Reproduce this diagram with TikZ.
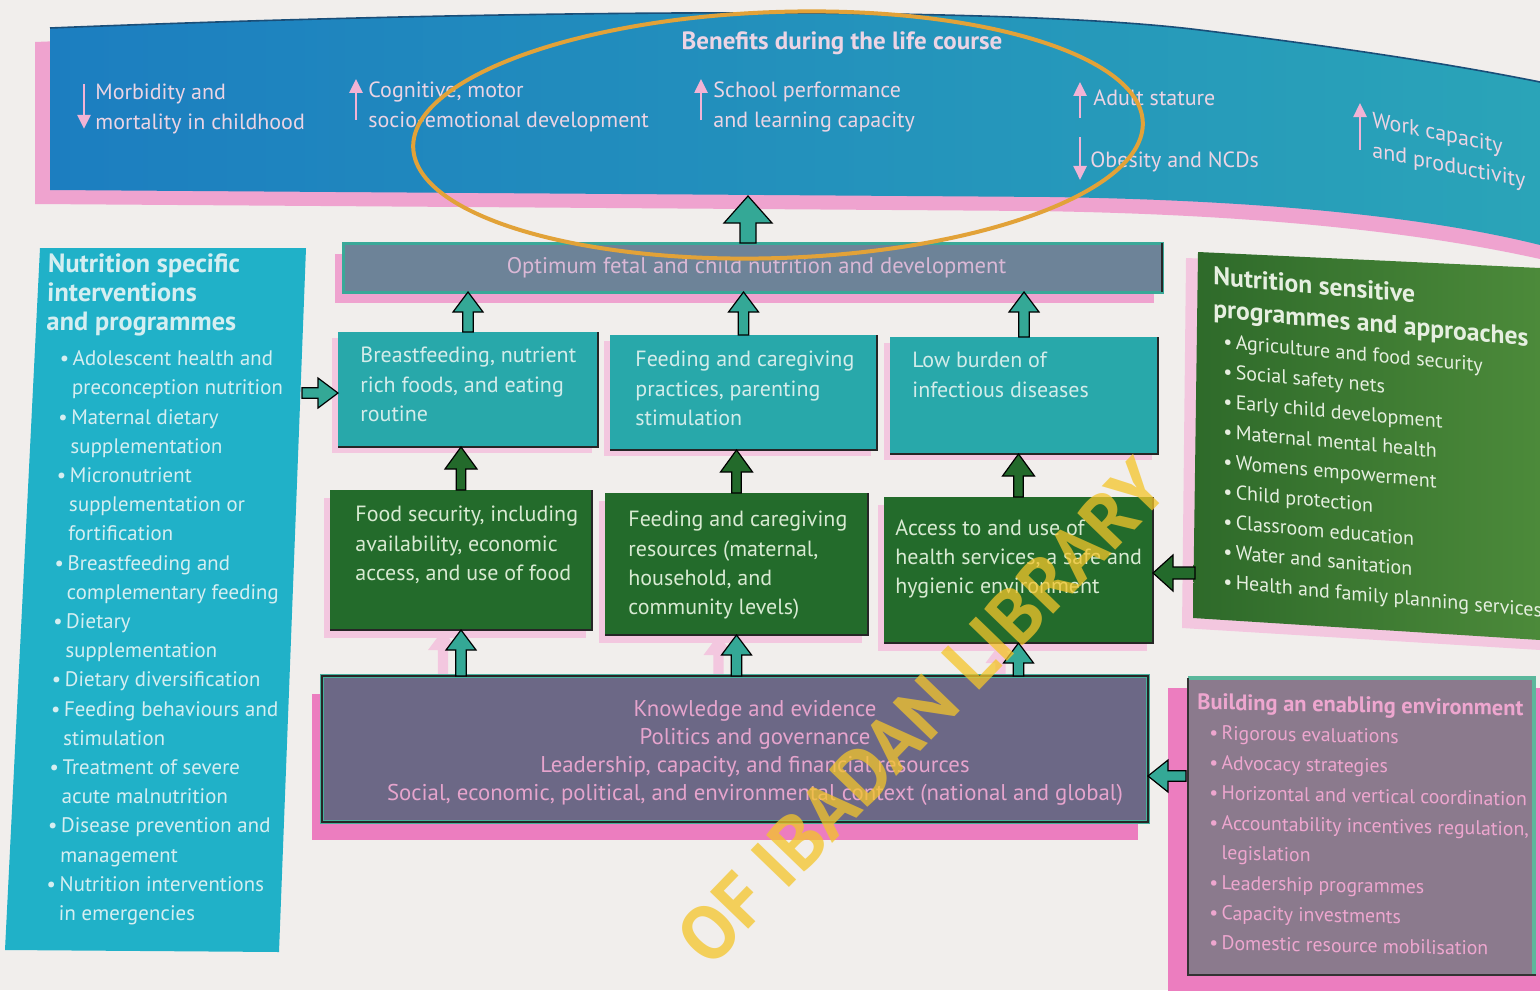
\documentclass[tikz,border=0pt]{standalone}
\usepackage{fontspec}
\setmainfont{PT Sans}
\usetikzlibrary{calc,arrows.meta}
\pgfdeclarelayer{paper}
\pgfdeclarelayer{shadow}
\pgfsetlayers{paper,shadow,main}
\definecolor{paperc}{HTML}{F1EEEC}
\definecolor{banL}{HTML}{1C7EC0}
\definecolor{banR}{HTML}{2AA4B8}
\definecolor{banedge}{HTML}{1A4E78}
\definecolor{bantext}{HTML}{ECD4E4}
\definecolor{banarrow}{HTML}{F2B3D5}
\definecolor{optfill}{HTML}{6D8398}
\definecolor{optborder}{HTML}{3AA898}
\definecolor{opttext}{HTML}{DAB8D6}
\definecolor{tealbox}{HTML}{28A8AA}
\definecolor{tealtext}{HTML}{D3ECEA}
\definecolor{tealarr}{HTML}{34A896}
\definecolor{greenbox}{HTML}{236B2B}
\definecolor{greentext}{HTML}{D8EAD2}
\definecolor{greenarr}{HTML}{236A2B}
\definecolor{gfill}{HTML}{6C6886}
\definecolor{gborder}{HTML}{46B09C}
\definecolor{gtext}{HTML}{E6A4CD}
\definecolor{hfill}{HTML}{20B1C8}
\definecolor{htext}{HTML}{D5EEF1}
\definecolor{iL}{HTML}{2E6A2A}
\definecolor{iR}{HTML}{4C8A3A}
\definecolor{itext}{HTML}{E6EFE0}
\definecolor{jfill}{HTML}{8B7A8D}
\definecolor{jborder}{HTML}{5BB79C}
\definecolor{jtext}{HTML}{EEA6CF}
\definecolor{pinkS}{HTML}{EC7DBF}
\definecolor{pinkM}{HTML}{EFA3CF}
\definecolor{pinkL}{HTML}{F3C7DF}
\definecolor{ring}{HTML}{E2A238}
\definecolor{wmark}{HTML}{F4C52A}
\newcommand\myfs[2]{\fontsize{#1}{#2}\selectfont}
\newcommand\bul{\textbullet\,}
\newcommand\nob{\phantom{\textbullet\,}}
\begin{document}
\begin{tikzpicture}[x=0.5pt,y=-0.5pt,
 uparr/.style n args={3}{to path={
   ($(\tikztostart)+(-#1,0pt)$) -- ($(\tikztostart |- \tikztotarget)+(-#1,-#3)$)
   -- ($(\tikztostart |- \tikztotarget)+(-#2,-#3)$) -- (\tikztostart |- \tikztotarget)
   -- ($(\tikztostart |- \tikztotarget)+(#2,-#3)$) -- ($(\tikztostart |- \tikztotarget)+(#1,-#3)$)
   -- ($(\tikztostart)+(#1,0pt)$) -- cycle}},
 leftarr/.style n args={3}{to path={
   ($(\tikztostart)+(0pt,#1)$) -- ($(\tikztostart -| \tikztotarget)+(#3,#1)$)
   -- ($(\tikztostart -| \tikztotarget)+(#3,#2)$) -- (\tikztostart -| \tikztotarget)
   -- ($(\tikztostart -| \tikztotarget)+(#3,-#2)$) -- ($(\tikztostart -| \tikztotarget)+(#3,-#1)$)
   -- ($(\tikztostart)+(0pt,-#1)$) -- cycle}},
 rightarr/.style n args={3}{to path={
   ($(\tikztostart)+(0pt,#1)$) -- ($(\tikztostart -| \tikztotarget)+(-#3,#1)$)
   -- ($(\tikztostart -| \tikztotarget)+(-#3,#2)$) -- (\tikztostart -| \tikztotarget)
   -- ($(\tikztostart -| \tikztotarget)+(-#3,-#2)$) -- ($(\tikztostart -| \tikztotarget)+(-#3,-#1)$)
   -- ($(\tikztostart)+(0pt,-#1)$) -- cycle}},
 arrline/.style={draw=black, line width=0.6pt, line join=miter},
 box/.style={inner sep=0pt, outer sep=0pt},
 tealb/.style={box, fill=tealbox},
 greenb/.style={box, fill=greenbox},
 btxt/.style={anchor=north west, align=left, inner sep=0pt, font=\myfs{11}{14.6}},
 edge/.style={draw=black!85, line width=0.7pt},
 bantxt/.style={anchor=north west, align=left, inner sep=0pt, text=bantext, font=\myfs{11}{15}},
 benarr/.style={draw=banarrow, line width=1.3pt, -{Triangle[length=7pt,width=6.5pt]}},
]
\useasboundingbox (0,0) rectangle (1540,990);
\begin{pgfonlayer}{paper}
\fill[paperc] (0,0) rectangle (1540,990);
\end{pgfonlayer}

% ---------- banner ----------
\begin{scope}[shift={(-15,14)}]
\fill[pinkM] (50,28) .. controls (500,10) and (1000,5) .. (1200,30) .. controls (1380,52) and (1480,70) .. (1555,84) -- (1555,245) .. controls (1420,215) and (1250,200) .. (1050,197) -- (50,190) -- cycle;
\end{scope}
\shade[left color=banL, right color=banR] (50,28) .. controls (500,10) and (1000,5) .. (1200,30) .. controls (1380,52) and (1480,70) .. (1540,82) -- (1540,245) .. controls (1420,215) and (1250,200) .. (1050,197) -- (50,190) -- cycle;
\draw[banedge, line width=0.8pt] (50,28) .. controls (500,10) and (1000,5) .. (1200,30) .. controls (1380,52) and (1480,70) .. (1540,82);

\node[text=bantext, font=\myfs{12.5}{14}\bfseries] (bt) at (842,43) {Benefits during the life course};
\node[bantxt] (m1) at (95,84) {Morbidity and\\mortality in childhood};
\node[bantxt] (m2) at (368,81) {Cognitive, motor\\socio-emotional development};
\node[bantxt] (m3) at (713,81) {School performance\\and learning capacity};
\node[bantxt] (m4) at (1093,89) {Adult stature};
\node[bantxt] (m5) at (1090,151) {Obesity and NCDs};
\node[bantxt, yslant=-0.2] (m6) at (1372,111) {Work capacity\\and productivity};
\draw[benarr] ([shift={(-5.5pt,0pt)}]m1.north west) -- ([shift={(-5.5pt,3pt)}]m1.south west);
\draw[benarr] ([shift={(-6pt,6pt)}]m2.south west) -- ([shift={(-6pt,1pt)}]m2.north west);
\draw[benarr] ([shift={(-6pt,6pt)}]m3.south west) -- ([shift={(-6pt,1pt)}]m3.north west);
\draw[benarr] ([shift={(-6.5pt,-6pt)}]m4.south west) -- ([shift={(-6.5pt,3.5pt)}]m4.north west);
\draw[benarr] ([shift={(-5pt,7pt)}]m5.north west) -- ([shift={(-5pt,-4pt)}]m5.south west);
\draw[benarr] ([shift={(-6pt,6pt)}]m6.south west) -- ([shift={(-6pt,4pt)}]m6.north west);

% ---------- left panel ----------
\fill[hfill] (40,248) -- (306,248) -- (279,952) -- (5,950) -- cycle;
\coordinate (Hout) at (302,393);
\node[anchor=north west, align=left, inner sep=0pt, text=htext, font=\myfs{10.5}{14.6}, xslant=0.025] (Ht) at (48,253) {%
{\myfs{13.2}{14.6}\bfseries Nutrition specific}\\
{\myfs{13.2}{14.6}\bfseries interventions}\\
{\myfs{13.2}{14.6}\bfseries and programmes}\\[3pt]
\hspace*{7pt}\bul Adolescent health and\\
\hspace*{7pt}\nob preconception nutrition\\
\hspace*{7pt}\bul Maternal dietary\\
\hspace*{7pt}\nob supplementation\\
\hspace*{7pt}\bul Micronutrient\\
\hspace*{7pt}\nob supplementation or\\
\hspace*{7pt}\nob fortification\\
\hspace*{7pt}\bul Breastfeeding and\\
\hspace*{7pt}\nob complementary feeding\\
\hspace*{7pt}\bul Dietary\\
\hspace*{7pt}\nob supplementation\\
\hspace*{7pt}\bul Dietary diversification\\
\hspace*{7pt}\bul Feeding behaviours and\\
\hspace*{7pt}\nob stimulation\\
\hspace*{7pt}\bul Treatment of severe\\
\hspace*{7pt}\nob acute malnutrition\\
\hspace*{7pt}\bul Disease prevention and\\
\hspace*{7pt}\nob management\\
\hspace*{7pt}\bul Nutrition interventions\\
\hspace*{7pt}\nob in emergencies};

% ---------- right panel ----------
\fill[pinkL] (1186,258) -- (1540,272) -- (1540,650) -- (1182,628) -- cycle;
\shade[left color=iL, right color=iR] (1198,252) -- (1540,268) -- (1540,640) -- (1193,618) -- cycle;
\coordinate (Iin) at (1195,573);
\node[anchor=north west, align=left, inner sep=0pt, text=itext, font=\myfs{10}{15}, yslant=-0.09] (It) at (1213,266) {%
{\myfs{12.8}{15}\bfseries Nutrition sensitive}\\[1.5pt]
{\myfs{12.8}{15}\bfseries programmes and approaches}\\
\hspace*{5pt}\bul Agriculture and food security\\
\hspace*{5pt}\bul Social safety nets\\
\hspace*{5pt}\bul Early child development\\
\hspace*{5pt}\bul Maternal mental health\\
\hspace*{5pt}\bul Womens empowerment\\
\hspace*{5pt}\bul Child protection\\
\hspace*{5pt}\bul Classroom education\\
\hspace*{5pt}\bul Water and sanitation\\
\hspace*{5pt}\bul Health and family planning services};

% ---------- enabling environment panel ----------
\fill[pinkS] (1168,688) rectangle (1545,995);
\fill[jfill] (1188,678) rectangle (1534,974);
\draw[jborder, line width=2pt] (1188,678) -- (1534,678) -- (1534,974);
\draw[black!80, line width=0.8pt] (1188,678) -- (1188,975) -- (1536,975);
\coordinate (Jin) at (1186,776);
\node[anchor=north west, align=left, inner sep=0pt, text=jtext, font=\myfs{9.9}{15}, yslant=-0.02] (Jt) at (1197,693) {%
{\myfs{11.2}{15}\bfseries Building an enabling environment}\\
\hspace*{6pt}\bul Rigorous evaluations\\
\hspace*{6pt}\bul Advocacy strategies\\
\hspace*{6pt}\bul Horizontal and vertical coordination\\
\hspace*{6pt}\bul Accountability incentives regulation,\\
\hspace*{6pt}\nob legislation\\
\hspace*{6pt}\bul Leadership programmes\\
\hspace*{6pt}\bul Capacity investments\\
\hspace*{6pt}\bul Domestic resource mobilisation};

% ---------- central boxes ----------
\node[box, fill=optfill, draw=optborder, line width=1.5pt, minimum width=409.5pt, minimum height=24.5pt] (O) at (752.5,267.5) {};
\draw[edge] (O.north east) -- (O.south east);
\node[font=\myfs{11.3}{13}, text=opttext] (Ot) at ([xshift=2pt]O.center) {Optimum fetal and child nutrition and development};

\node[tealb, minimum width=130pt, minimum height=57.5pt] (A) at (468,389.5) {};
\node[tealb, minimum width=133.5pt, minimum height=57.5pt] (B) at (743.5,392.5) {};
\node[tealb, minimum width=134pt, minimum height=58.5pt] (C) at (1024,395.5) {};
\node[greenb, minimum width=131pt, minimum height=70pt] (D) at (461,560) {};
\node[greenb, minimum width=131.5pt, minimum height=71pt] (E) at (736.5,564) {};
\node[greenb, minimum width=134.5pt, minimum height=73pt] (F) at (1018.5,570) {};
\foreach \n in {A,B,C,D,E,F} \draw[edge] (\n.north east) -- (\n.south east) -- (\n.south west);

\node[btxt, text=tealtext] (At) at ([shift={(11pt,-7.5pt)}]A.north west) {Breastfeeding, nutrient\\rich foods, and eating\\routine};
\node[btxt, text=tealtext] (Bt) at ([shift={(12.5pt,-8pt)}]B.north west) {Feeding and caregiving\\practices, parenting\\stimulation};
\node[btxt, text=tealtext] (Ct) at ([shift={(11pt,-7.5pt)}]C.north west) {Low burden of\\infectious diseases};
\node[btxt, text=greentext] (Dt) at ([shift={(12.5pt,-8pt)}]D.north west) {Food security, including\\availability, economic\\access, and use of food};
\node[btxt, text=greentext] (Et) at ([shift={(11.5pt,-9pt)}]E.north west) {Feeding and caregiving\\resources (maternal,\\household, and\\community levels)};
\node[btxt, text=greentext] (Ft) at ([shift={(5.5pt,-11pt)}]F.north west) {Access to and use of\\health services, a safe and\\hygienic environment};

\node[box, fill=gfill, draw=gborder, line width=2pt, minimum width=413pt, minimum height=73pt] (G) at (735,749) {};
\draw[black!85, line width=0.7pt] (G.north west) rectangle (G.south east);
\node[align=center, font=\myfs{11.4}{14}, text=gtext] (Gt) at ([shift={(10pt,-2pt)}]G.center) {Knowledge and evidence\\Politics and governance\\Leadership, capacity, and financial resources\\Social, economic, political, and environmental context (national and global)};

% ---------- shadows ----------
\begin{pgfonlayer}{shadow}
\foreach \n in {A,B,C} \fill[pinkL] ([shift={(-3pt,-3pt)}]\n.north west) rectangle ([shift={(-3pt,-3pt)}]\n.south east);
\foreach \n in {D,E,F} \fill[pinkL] ([shift={(-3pt,-4pt)}]\n.north west) rectangle ([shift={(-3pt,-4pt)}]\n.south east);
\fill[pinkM] ([shift={(-4pt,-5.5pt)}]O.north west) rectangle ([shift={(-4pt,-5.5pt)}]O.south east);
\fill[pinkS] ([shift={(-5pt,-9pt)}]G.north west) rectangle ([shift={(-5pt,-9pt)}]G.south east);
\end{pgfonlayer}

% ---------- connectors ----------
\coordinate (bigS) at (748,243);
\coordinate (bigT) at (748,196);
\draw[arrline, fill=tealarr, uparr={4pt}{12pt}{13.5pt}] (bigS) to (bigT);
\foreach \a/\b in {A/O,B/O,C/O}
  \draw[arrline, fill=tealarr, uparr={2.6pt}{7.5pt}{10pt}] (\a.north) to (\b.south);
\foreach \a/\b in {D/A,E/B,F/C}
  \draw[arrline, fill=greenarr, uparr={2.4pt}{8pt}{11pt}] (\a.north) to (\b.south);
\coordinate (g1) at (D.south |- G.north);
\coordinate (g2) at (E.south |- G.north);
\coordinate (g3) at (F.south |- G.north);
\coordinate (p1) at ([xshift=-9pt]g1);
\coordinate (p2) at ([xshift=-9pt]g2);
\coordinate (p3) at ([xshift=-9pt]g3);
\begin{pgfonlayer}{shadow}
\foreach \a/\b in {p1/D,p2/E,p3/F}
  \fill[pinkL, uparr={2.6pt}{7.5pt}{10pt}] (\a) to (\b.south);
\end{pgfonlayer}
\foreach \a/\b in {g1/D,g2/E,g3/F}
  \draw[arrline, fill=tealarr, uparr={2.6pt}{7.5pt}{10pt}] (\a) to (\b.south);
\draw[arrline, fill=tealarr, rightarr={2.6pt}{7.5pt}{10pt}] (Hout) to (A.west);
\draw[arrline, fill=greenarr, leftarr={3pt}{9pt}{10pt}] (Iin) to (F.east);
\draw[arrline, fill=tealarr, leftarr={2.6pt}{8pt}{10pt}] (Jin) to (G.east);

% ---------- annotation ring and watermark ----------
\draw[ring, line width=2pt, rotate around={2:(778,135)}] (778,135) ellipse [x radius=182.5pt, y radius=61.5pt];
\node[rotate=46, text=wmark, opacity=0.75, font=\myfs{38}{38}\bfseries] (wm) at (922,712) {OF IBADAN LIBRARY};
\end{tikzpicture}
\end{document}
